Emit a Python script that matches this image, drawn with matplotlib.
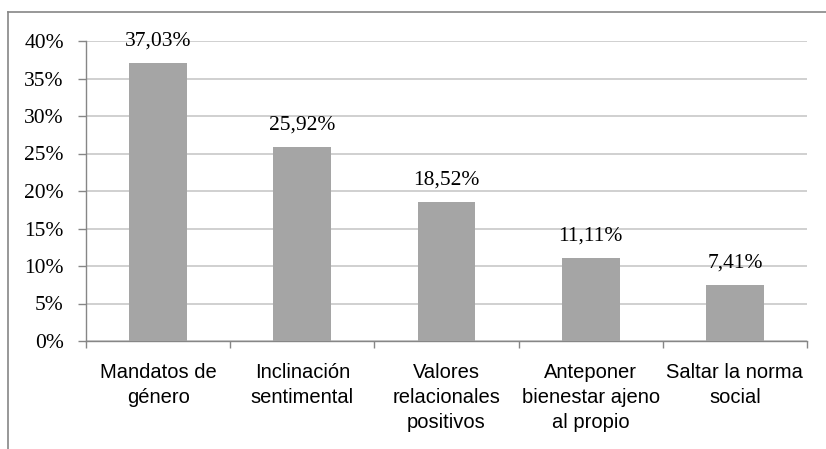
import matplotlib.pyplot as plt
from matplotlib.lines import Line2D

categorias = ['Mandatos de\ngénero', 'Inclinación\nsentimental', 'Valores\nrelacionales\npositivos',
              'Anteponer\nbienestar ajeno\nal propio', 'Saltar la norma\nsocial']
porcentajes = [37.03, 25.92, 18.52, 11.11, 7.41]
yticks = [0, 5, 10, 15, 20, 25, 30, 35, 40]

serif = 'Liberation Serif'
sans = 'Liberation Sans'

fig = plt.figure(figsize=(8.26, 4.49), dpi=100)
ax = fig.add_axes([86/826, 1-341/449, (807-86)/826, 300/449])

x = list(range(len(categorias)))
ax.bar(x, porcentajes, width=0.40, color='#a5a5a5', zorder=3)
for xi, v in zip(x, porcentajes):
    ax.annotate(f'{v:.2f}%'.replace('.', ','), (xi, v), xytext=(0, 9), textcoords='offset points',
                ha='center', va='bottom', fontsize=15.5, family=serif)

ax.set_xlim(-0.5, len(categorias) - 0.5)
ax.set_ylim(0, 40)
ax.set_yticks(yticks)
ax.set_yticklabels([f'{t}%' for t in yticks], family=serif, fontsize=15.5)
ax.yaxis.grid(True, color='#c8c8c8', lw=1.2, zorder=0)

ax.set_xticks(x)
ax.set_xticklabels(categorias, family=sans, fontsize=14.5, linespacing=1.38)
ax.tick_params(axis='x', length=0, pad=16)
ax.set_xticks([i - 0.5 for i in range(len(categorias) + 1)], minor=True)
ax.tick_params(axis='x', which='minor', length=5, color='#868686', width=1)
ax.tick_params(axis='y', length=6, color='#868686', width=1, pad=10)

for s in ['top', 'right']:
    ax.spines[s].set_visible(False)
for s in ['left', 'bottom']:
    ax.spines[s].set_color('#868686')
    ax.spines[s].set_linewidth(1)

# borde del gráfico (recortado)
fig.add_artist(Line2D([8/826, 1], [1-12/449, 1-12/449], color='#868686', lw=1.2))
fig.add_artist(Line2D([8/826, 8/826], [0, 1-12/449], color='#868686', lw=1.2))

fig.savefig('out.png', dpi=100)
